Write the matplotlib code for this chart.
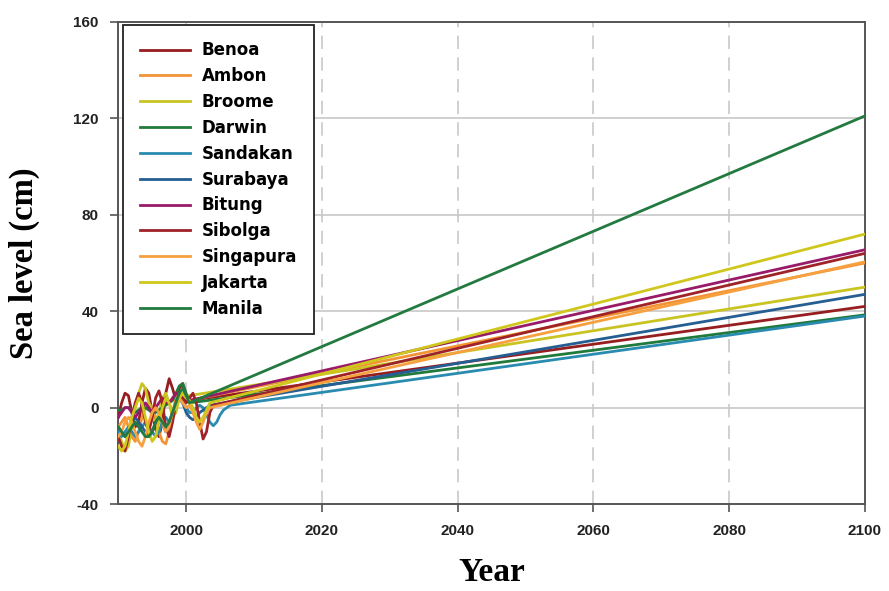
import numpy as np
import matplotlib
matplotlib.use("Agg")
import matplotlib.pyplot as plt

plt.rcParams["axes.unicode_minus"] = False

# half-year steps of the observed record, 1990.0 .. 2007.0
years = np.arange(1990.0, 2007.01, 0.5)
nan = np.nan

stations = ["Benoa", "Ambon", "Broome", "Darwin", "Sandakan", "Surabaya",
            "Bitung", "Sibolga", "Singapura", "Jakarta", "Manila"]
colors = ["#961d20", "#f39434", "#c9c421", "#1f7a3c", "#2a8bb0", "#245e93",
          "#9a1a6a", "#9e2228", "#f7a040", "#d0c71c", "#237a40"]

# observed anomalies (cm), NaN after the record ends
benoa = [-4, 2, 6, 5, -2, -8, -6, 2, 8, 6, -2, -9, -12, -6, 6, 12, 8, 3,
         8, 10, 5, 3] + [nan] * 13
ambon = [-8, -6, -4, -8, -12, -14, -10, -4, 0, 2, 0, -4, -10, -14, -15, -10, -2, 4,
         6, 4, 2, 3] + [nan] * 13
broome = [-10, -14, -18, -16, -8, 0, 6, 10, 8, 2, -4, -6, -2, 4, 6, 2, -4, -2,
          4, 6, 5, 5] + [nan] * 13
darwin = [-1, -1, 0, 0, -1, -2, -1, 0, 0, -1, -2, -2, -1, 0, 1, 2, 3, 6,
          9, 10, 6, 2] + [nan] * 13
sandakan = [-10, -12, -10, -8, -10, -12, -10, -8, -6, -8, -10, -12, -10, -6, -4, -6, -2, 2,
            4, 2, 0, -2, -2, 0, 1, 0, -3, -6, -7.5, -6, -3, -1, 0, 1, nan]
surabaya = [-8, -10, -12, -10, -6, -4, -6, -8, -10, -12, -10, -6, -4, -6, -10, -8, -2, 2,
            4, 2, -2, -4, -5, -4, -2, -1, 0, 1] + [nan] * 7
bitung = [-4, -2, 0, 0, -2, -4, -2, 0, 2, 0, -2, 0, 2, 4, 2, 2, 4, 6,
          5, 4, 3, 3] + [nan] * 13
sibolga = [-12, -16, -18, -12, -4, 2, 6, 2, -6, -10, -4, 4, 7, 2, -8, -12, -6, 2,
           6, 4, 2, 4, 6, 2, -6, -13, -10, -2, 1] + [nan] * 6
singapura = [-12, -10, -6, -4, -6, -10, -14, -16, -12, -6, -2, 0, -2, -6, -10, -8, -2, 2,
             4, 2, 0, 1, -2, -6, -9, -6, -2, 0] + [nan] * 7
jakarta = [-16, -18, -16, -10, -4, 0, 4, 2, -4, -10, -14, -12, -6, 0, 4, 2, -2, 0,
           4, 6, 4, 3, 0, -4, -6, -4, -1, 2] + [nan] * 7
manila = [-8, -10, -12, -10, -8, -6, -8, -10, -12, -12, -10, -6, -4, -6, -8, -6, -2, 2,
          6, 8, 5, 2] + [nan] * 13

# projected sea level in 2100 (cm)
end_2100 = [42, 60, 50, 38.5, 38, 47, 65.5, 64, 60.5, 72, 121]

series = [benoa, ambon, broome, darwin, sandakan, surabaya,
          bitung, sibolga, singapura, jakarta, manila]

fig = plt.figure(figsize=(8.89, 5.91), dpi=100)
ax = fig.add_axes([0.133, 0.147, 0.840, 0.816])

for name, col, vals, end in zip(stations, colors, series, end_2100):
    vals = np.array(vals, dtype=float)
    ok = ~np.isnan(vals)
    yr, v = years[ok], vals[ok]
    # observed part then linear trend to 2100
    ax.plot(np.append(yr, 2100), np.append(v, end), color=col, lw=2.0,
            label=name, zorder=3, solid_joinstyle="round")

ax.set_xlim(1990, 2100)
ax.set_ylim(-40, 160)
ax.set_xticks([2000, 2020, 2040, 2060, 2080, 2100])
ax.set_yticks([-40, 0, 40, 80, 120, 160])

for y in [0, 40, 80, 120]:
    ax.axhline(y, color="#c8c8c8", lw=1.2, zorder=1)
for x in [2000, 2020, 2040, 2060, 2080]:
    ax.axvline(x, color="#c8c8c8", lw=1.2, ls=(0, (8, 5)), zorder=1)

for s in ax.spines.values():
    s.set_color("#555555")
    s.set_linewidth(1.4)
ax.tick_params(direction="out", length=6, width=1.2, color="#555555",
               labelsize=11, pad=8)
for lab in ax.get_xticklabels() + ax.get_yticklabels():
    lab.set_fontweight("bold")
    lab.set_family("Liberation Sans")
    lab.set_color("#222222")

ax.set_xlabel("Year", fontsize=24, fontweight="bold", family="Liberation Serif",
              va="baseline")
ax.xaxis.set_label_coords(0.5, -0.160)
ax.set_ylabel("Sea level (cm)", fontsize=23.5, fontweight="bold",
              family="Liberation Serif", va="center")
ax.yaxis.set_label_coords(-0.126, 0.5)

leg = ax.legend(loc="upper left", bbox_to_anchor=(0.007, 0.994), borderaxespad=0,
                fancybox=False, framealpha=1, edgecolor="#222222",
                handlelength=3.0, handletextpad=0.7, labelspacing=0.47,
                borderpad=1.0,
                prop={"family": "DejaVu Sans", "weight": "bold", "size": 12})
leg.get_frame().set_linewidth(1.3)
leg.set_zorder(5)

fig.savefig("out.png", dpi=100)
